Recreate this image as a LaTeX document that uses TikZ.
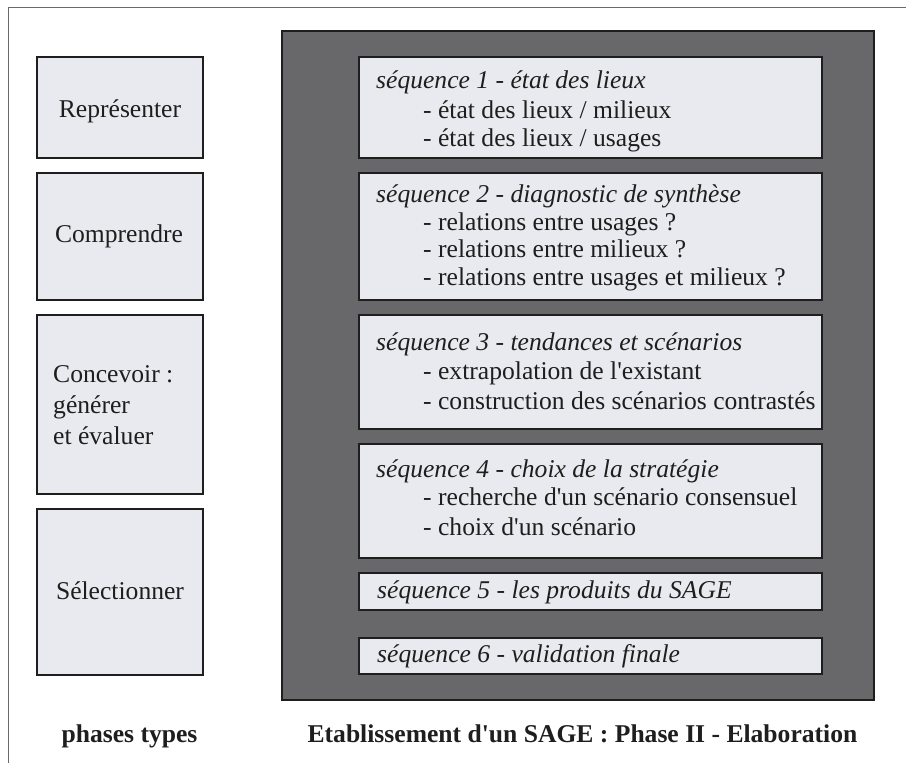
\documentclass[tikz,border=0pt]{standalone}
\usepackage{fontspec}
\setmainfont{Liberation Serif}
\definecolor{boxfill}{HTML}{E9EAEF}
\definecolor{darkfill}{HTML}{68686A}
\definecolor{boxline}{HTML}{1E1E1E}
\definecolor{framegray}{HTML}{6A6A6A}
\newcommand{\apo}{\textquotesingle}
\begin{document}
\begin{tikzpicture}[x=1pt,y=-1pt,
  framestyle/.style={draw=framegray, line width=1.5pt},
  darkbox/.style={draw=boxline, line width=1.5pt, fill=darkfill, inner sep=0pt},
  litebox/.style={draw=boxline, line width=2pt, fill=boxfill, inner sep=0pt},
  phasebox/.style={litebox, minimum width=166pt},
  seqbox/.style={litebox, minimum width=463pt},
  basefont/.style={font=\fontsize{25.6}{28}\selectfont},
  txtc/.style={basefont, anchor=base, inner sep=0pt, text=boxline},
  txtl/.style={basefont, anchor=base west, inner sep=0pt, text=boxline},
  seqtitle/.style={txtl, font=\fontsize{25.6}{28}\selectfont\itshape},
  caption/.style={basefont, anchor=base, inner sep=0pt, font=\fontsize{25.6}{28}\selectfont\bfseries, text=boxline}
]
\useasboundingbox (0,0) rectangle (906,763);
\fill[white] (0,0) rectangle (906,763);

% outer frame (only top and left edges visible)
\coordinate (fa) at (8.5,764);
\coordinate (fb) at (8.5,7.5);
\coordinate (fc) at (907,7.5);
\draw[framestyle] (fa) -- (fb) -- (fc);

% left phase boxes
\node[phasebox, minimum height=101pt] (p1) at (120,107.5) {};
\node[phasebox, minimum height=127pt] (p2) at (120,236.5) {};
\node[phasebox, minimum height=179pt] (p3) at (120,404.5) {};
\node[phasebox, minimum height=166pt] (p4) at (120,592) {};

\node[txtc] (t1) at (120,117) {Représenter};
\node[txtc] (t2) at (119,242) {Comprendre};
\node[txtl] (t3a) at (53,382) {Concevoir :};
\node[txtl] (t3b) at (53,413) {générer};
\node[txtl] (t3c) at (53,444) {et évaluer};
\node[txtc] (t4) at (120,599) {Sélectionner};

% dark panel
\node[darkbox, minimum width=592pt, minimum height=669pt] (panel) at (578,365.5) {};

% sequence boxes
\node[seqbox, minimum height=101pt] (s1) at (590.5,107.5) {};
\node[seqbox, minimum height=127pt] (s2) at (590.5,236.5) {};
\node[seqbox, minimum height=114pt] (s3) at (590.5,372) {};
\node[seqbox, minimum height=114pt] (s4) at (590.5,501) {};
\node[seqbox, minimum height=37pt] (s5) at (590.5,591.5) {};
\node[seqbox, minimum height=36pt] (s6) at (590.5,656) {};

\node[seqtitle] (s1t) at (376,88) {séquence 1 - état des lieux};
\node[txtl] (s1a) at (423,118) {- état des lieux / milieux};
\node[txtl] (s1b) at (423,146) {- état des lieux / usages};

\node[seqtitle] (s2t) at (376,202) {séquence 2 - diagnostic de synthèse};
\node[txtl] (s2a) at (423,230) {- relations entre usages ?};
\node[txtl] (s2b) at (423,257) {- relations entre milieux ?};
\node[txtl] (s2c) at (423,285) {- relations entre usages et milieux ?};

\node[seqtitle] (s3t) at (376,350) {séquence 3 - tendances et scénarios};
\node[txtl] (s3a) at (423,379) {- extrapolation de l\apo existant};
\node[txtl] (s3b) at (423,409) {- construction des scénarios contrastés};

\node[seqtitle] (s4t) at (376,477) {séquence 4 - choix de la stratégie};
\node[txtl] (s4a) at (423,505) {- recherche d\apo un scénario consensuel};
\node[txtl] (s4b) at (423,535) {- choix d\apo un scénario};

\node[seqtitle] (s5t) at (377,598) {séquence 5 - les produits du SAGE};
\node[seqtitle] (s6t) at (377,662) {séquence 6 - validation finale};

% captions
\node[caption] (c1) at (129.5,742) {phases types};
\node[caption] (c2) at (582.5,742) {Etablissement d\apo un SAGE : Phase II - Elaboration};
\end{tikzpicture}
\end{document}
